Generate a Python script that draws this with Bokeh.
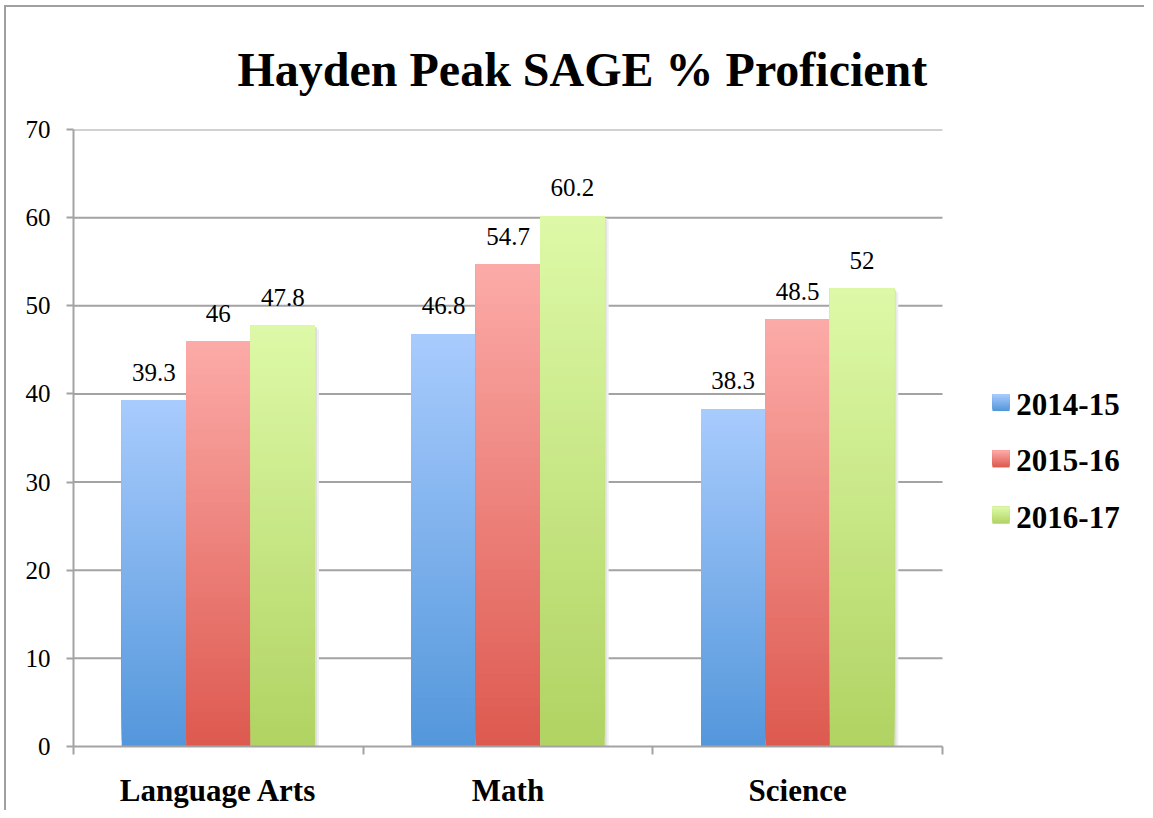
import numpy as np
from bokeh.plotting import figure
from bokeh.models import ColumnDataSource, FixedTicker, Range1d
from bokeh.core.properties import value
from bokeh.embed import file_html
from bokeh.resources import INLINE

# ---- data ----
categories = ["Language Arts", "Math", "Science"]
series_names = ["2014-15", "2015-16", "2016-17"]
v_2014_15 = [39.3, 46.8, 38.3]
v_2015_16 = [46.0, 54.7, 48.5]
v_2016_17 = [47.8, 60.2, 52.0]
y_ticks = [0, 10, 20, 30, 40, 50, 60, 70]
title_text = "Hayden Peak SAGE % Proficient"

# ---- style ----
FONT = "Liberation Serif"
GRAY = "#a3a3a3"
grad = [((84, 151, 219), (168, 203, 253)),
        ((221, 90, 80), (252, 170, 167)),
        ((177, 211, 99), (221, 249, 167))]
N = 60
bar_w = 0.2224
offsets = [-bar_w, 0.0, bar_w]
px_x = 869 / 3.0          # pixels per x unit
px_y = 618 / 70.0         # pixels per y unit
x_end = 1073 / px_x

p = figure(width=1140, height=805, output_backend="svg", toolbar_location=None,
           x_range=Range1d(0, x_end), y_range=Range1d(0, 70),
           min_border_left=67, min_border_right=0, min_border_top=121, min_border_bottom=66)
p.styles = {"margin-left": "4px", "margin-top": "5px",
            "border-left": "2px solid #a0a0a0", "border-top": "2px solid #a0a0a0"}
p.outline_line_color = None
p.background_fill_color = "white"
p.border_fill_color = "white"

def hexc(c):
    return "#%02x%02x%02x" % tuple(int(round(x)) for x in c)

# grid lines over the category area only
p.segment(x0=[0] * (len(y_ticks) - 1), x1=[3] * (len(y_ticks) - 1), y0=y_ticks[1:], y1=y_ticks[1:],
          line_color=GRAY, line_width=2)

all_series = [v_2014_15, v_2015_16, v_2016_17]

# soft shadows behind bars
for vals, off in zip(all_series, offsets):
    for sh_px, col in ((4, "#f0f0f0"), (2, "#dedede")):
        p.vbar(x=[i + 0.5 + off + sh_px / px_x for i in range(len(vals))],
               top=[v - sh_px / px_y for v in vals], bottom=0, width=bar_w,
               fill_color=col, line_color=None)

for s, (vals, (cb, ct), off) in enumerate(zip(all_series, grad, offsets)):
    xs, bots, tops, cols = [], [], [], []
    for i, v in enumerate(vals):
        for k in range(N):
            t = k / (N - 1)
            xs.append(i + 0.5 + off)
            bots.append(v * k / N)
            tops.append(v)
            cols.append(hexc([cb[j] + (ct[j] - cb[j]) * t for j in range(3)]))
    src = ColumnDataSource(dict(x=xs, bottom=bots, top=tops, color=cols))
    p.vbar(x="x", bottom="bottom", top="top", width=bar_w, source=src,
           fill_color="color", line_color=None)
    lsrc = ColumnDataSource(dict(x=[i + 0.5 + off for i in range(len(vals))], y=vals,
                                 t=[f"{v:g}" for v in vals]))
    p.text(x="x", y="y", text="t", source=lsrc, text_align="center", text_baseline="alphabetic",
           y_offset=-28, text_font=value(FONT), text_font_size="25px", text_color="black")

    # legend entry (swatch with gradient + label)
    yc = 39.02 - s * 56.5 / px_y
    h = 17 / px_y
    M = 17
    sx = [3.202] * M
    sb = [yc - h / 2 + h * k / M for k in range(M)]
    st = [yc + h / 2] * M
    sc = [hexc([cb[j] + (ct[j] - cb[j]) * k / (M - 1) for j in range(3)]) for k in range(M)]
    p.vbar(x=sx, bottom=sb, top=st, width=17 / px_x, fill_color=sc, line_color=None)
    p.text(x=[3.255], y=[yc], text=[series_names[s]], text_align="left", text_baseline="alphabetic",
           y_offset=2, text_font=value(FONT), text_font_style="bold", text_font_size="31px",
           text_color="black")

# axes
p.xaxis.bounds = (0, 3)
p.xaxis.ticker = FixedTicker(ticks=[0.5, 1.5, 2.5], minor_ticks=[0, 1, 2, 3])
p.xaxis.major_label_overrides = {0.5: categories[0], 1.5: categories[1], 2.5: categories[2]}
p.xaxis.major_tick_line_color = None
p.xaxis.major_tick_out = 0
p.xaxis.minor_tick_out = 8
p.xaxis.minor_tick_in = 0
p.xaxis.minor_tick_line_color = GRAY
p.xaxis.minor_tick_line_width = 2
p.xaxis.axis_line_color = GRAY
p.xaxis.axis_line_width = 2
p.xaxis.major_label_text_font = FONT
p.xaxis.major_label_text_font_style = "bold"
p.xaxis.major_label_text_font_size = "31px"
p.xaxis.major_label_text_color = "black"
p.xaxis.major_label_standoff = 18

p.yaxis.ticker = FixedTicker(ticks=y_ticks, minor_ticks=[])
p.yaxis.major_tick_out = 7
p.yaxis.major_tick_in = 0
p.yaxis.major_tick_line_color = GRAY
p.yaxis.major_tick_line_width = 2
p.yaxis.axis_line_color = GRAY
p.yaxis.axis_line_width = 2
p.yaxis.major_label_text_font = FONT
p.yaxis.major_label_text_font_size = "25px"
p.yaxis.major_label_text_color = "black"
p.yaxis.major_label_standoff = 16

p.xgrid.visible = False
p.ygrid.visible = False

p.title.text = title_text
p.title.align = "left"
p.title.offset = 164
p.title.text_font = FONT
p.title.text_font_style = "bold"
p.title.text_font_size = "48px"
p.title.text_color = "black"
p.title.standoff = 67

open("out.html", "w").write(file_html(p, INLINE))
